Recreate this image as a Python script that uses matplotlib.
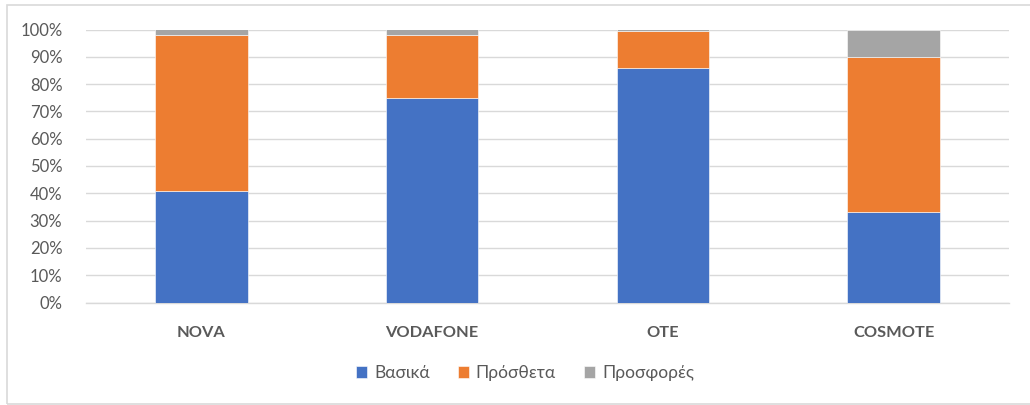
import matplotlib
matplotlib.use("Agg")
import matplotlib.pyplot as plt
from matplotlib.patches import Rectangle
from matplotlib.ticker import PercentFormatter, MultipleLocator
import numpy as np

categories = ["NOVA", "VODAFONE", "OTE", "COSMOTE"]
vasika = [41, 75, 86, 33]
prostheta = [57, 23, 13.4, 57]
prosfores = [2, 2, 0.6, 10]
series_names = ["Βασικά", "Πρόσθετα", "Προσφορές"]
colors = ["#4472C4", "#ED7D31", "#A5A5A5"]

plt.rcParams['font.family'] = ['Lato', 'DejaVu Sans']

fig = plt.figure(figsize=(10.30, 4.05), dpi=100)
ax = fig.add_axes([86/1030, 1 - 302.5/405, (1009 - 86)/1030, (302.5 - 29.5)/405])

x = np.arange(len(categories))
bottom = np.zeros(len(categories))
for vals, name, c in zip([vasika, prostheta, prosfores], series_names, colors):
    v = np.array(vals, dtype=float)
    ax.bar(x, v, 0.4, bottom=bottom, color=c, label=name, zorder=3,
           edgecolor="white", linewidth=0.4)
    bottom += v

ax.set_xlim(-0.5, len(categories) - 0.5)
ax.set_ylim(0, 100)
ax.yaxis.set_major_locator(MultipleLocator(10))
ax.yaxis.set_major_formatter(PercentFormatter(decimals=0))
ax.grid(axis="y", color="#D9D9D9", linewidth=1, zorder=0)
for s in ["top", "right", "left"]:
    ax.spines[s].set_visible(False)
ax.spines["bottom"].set_color("#D9D9D9")
ax.spines["bottom"].set_linewidth(1)
ax.tick_params(axis="y", length=0, pad=17, labelsize=12, labelcolor="#595959")
ax.tick_params(axis="x", length=0, pad=17, labelsize=11.8, labelcolor="#595959")
ax.set_xticks(x)
ax.set_xticklabels(categories, fontweight="bold")

leg = fig.legend(loc="center", bbox_to_anchor=(525/1030, 1 - 373/405), ncol=3,
                 frameon=False, fontsize=12.5, handlelength=0.65, handleheight=0.65,
                 handletextpad=0.4, columnspacing=1.6)
for t in leg.get_texts():
    t.set_color("#595959")

fig.patches.append(Rectangle((7/1030, 1/405), 1.1, 399/405, transform=fig.transFigure,
                             fill=False, edgecolor="#D9D9D9", linewidth=1.2))

fig.savefig("out.png", dpi=100)
